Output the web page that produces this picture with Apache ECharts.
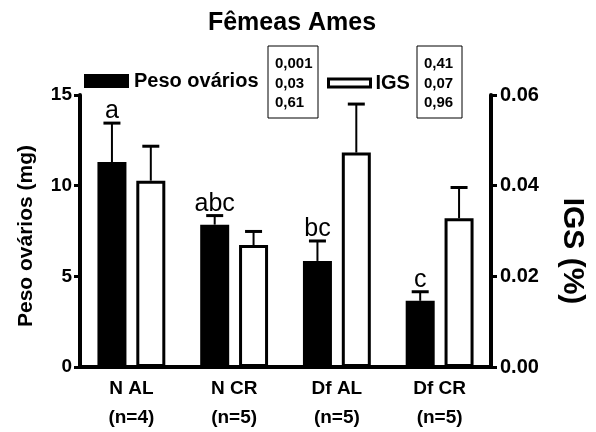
<!DOCTYPE html>
<html>
<head>
<meta charset="utf-8">
<script src="https://cdn.jsdelivr.net/npm/echarts@6/dist/echarts.min.js"></script>
<style>html,body{margin:0;padding:0;background:#fff;}#chart{width:596px;height:432px;}</style>
</head>
<body>
<div id="chart"></div>
<script>
const categories = ['N AL', 'N CR', 'Df AL', 'Df CR'];
const nLabels = ['(n=4)', '(n=5)', '(n=5)', '(n=5)'];
const pesoMean = [11.3, 7.85, 5.85, 3.65];
const pesoSem = [2.15, 0.5, 1.1, 0.5];
const igsMean = [0.0411, 0.0269, 0.0473, 0.0328];
const igsSem = [0.0076, 0.0030, 0.0107, 0.0068];
const letters = ['a', 'abc', 'bc', 'c'];
const pPeso = ['0,001', '0,03', '0,61'];
const pIgs = ['0,41', '0,07', '0,96'];
const leftAxis = { min: 0, max: 15, interval: 5 };
const rightAxis = { min: 0, max: 0.06, interval: 0.02 };

const FONT = 'Liberation Sans';
const BAR_W = 29;
const BAR_GAP = 0.34;

function errRender(dir, withLetters) {
  return function (params, api) {
    const i = api.value(0);
    const top = api.value(1);
    const base = api.value(2);
    const off = dir * (BAR_W + BAR_W * BAR_GAP) / 2;
    const p0 = api.coord([i, base]);
    const p1 = api.coord([i, top]);
    const x = p0[0] + off;
    const children = [
      { type: 'line', shape: { x1: x, y1: p0[1], x2: x, y2: p1[1] }, style: { stroke: '#000', lineWidth: 2 } },
      { type: 'line', shape: { x1: x - 8.5, y1: p1[1], x2: x + 8.5, y2: p1[1] }, style: { stroke: '#000', lineWidth: 3 } }
    ];
    if (withLetters) {
      children.push({ type: 'text', style: { text: letters[i], x: x, y: p1[1] + 1, align: 'center', verticalAlign: 'bottom', fontSize: 25, fontFamily: FONT, fill: '#000' } });
    }
    return { type: 'group', children: children };
  };
}

const chart = echarts.init(document.getElementById('chart'));

const boxGraphics = [];
function addBox(x, y, w, h, texts) {
  boxGraphics.push({ type: 'rect', shape: { x: x, y: y, width: w, height: h }, style: { fill: '#fff', stroke: '#000', lineWidth: 1 }, z: 10 });
  texts.forEach(function (t, k) {
    boxGraphics.push({ type: 'text', x: x + 7, y: y + 18 + k * 19.5, z: 11, style: { text: t, fontSize: 15, fontWeight: 'bold', fontFamily: FONT, fill: '#000', verticalAlign: 'middle' } });
  });
}
addBox(268, 46, 50, 72, pPeso);
addBox(417, 46, 45, 72, pIgs);

chart.setOption({
  animation: false,
  backgroundColor: '#fff',
  title: {
    text: 'Fêmeas Ames', left: 292, top: 11, textAlign: 'center', padding: 0,
    textStyle: { fontFamily: FONT, fontWeight: 'bold', fontSize: 25, color: '#000' }
  },
  legend: [
    { data: ['Peso ovários'], left: 84, top: 71, itemWidth: 45, itemHeight: 14, icon: 'rect', selectedMode: false, padding: 0,
      itemStyle: { color: '#000', borderWidth: 0 },
      textStyle: { fontFamily: FONT, fontWeight: 'bold', fontSize: 20, color: '#000' } },
    { data: ['IGS'], left: 327, top: 73, itemWidth: 42, itemHeight: 8, icon: 'rect', selectedMode: false, padding: 0,
      itemStyle: { color: '#fff', borderColor: '#000', borderWidth: 3 },
      textStyle: { fontFamily: FONT, fontWeight: 'bold', fontSize: 20, color: '#000' } }
  ],
  grid: { left: 80, right: 105, top: 95, bottom: 62 },
  xAxis: {
    type: 'category',
    data: categories.map(function (c, i) { return c + '\n' + nLabels[i]; }),
    axisLine: { lineStyle: { color: '#000', width: 4 } },
    axisTick: { alignWithLabel: true, length: 8, lineStyle: { color: '#000', width: 3 } },
    axisLabel: { fontFamily: FONT, fontWeight: 'bold', fontSize: 19, color: '#000', lineHeight: 29, margin: 7 }
  },
  yAxis: [
    {
      type: 'value', min: leftAxis.min, max: leftAxis.max, interval: leftAxis.interval, position: 'left',
      name: 'Peso ovários (mg)', nameLocation: 'middle', nameRotate: 90, nameGap: 43,
      nameTextStyle: { fontFamily: FONT, fontWeight: 'bold', fontSize: 21, color: '#000', padding: [0, 10, 0, 0] },
      axisLine: { show: true, lineStyle: { color: '#000', width: 4 } },
      axisTick: { show: true, length: 6, lineStyle: { color: '#000', width: 3 } },
      splitLine: { show: false },
      axisLabel: { fontFamily: FONT, fontWeight: 'bold', fontSize: 19, color: '#000', margin: 8 }
    },
    {
      type: 'value', min: rightAxis.min, max: rightAxis.max, interval: rightAxis.interval, position: 'right',
      name: 'IGS (%)', nameLocation: 'middle', nameRotate: -90, nameGap: 66,
      nameTextStyle: { fontFamily: FONT, fontWeight: 'bold', fontSize: 30, color: '#000', padding: [0, 0, 0, 40] },
      axisLine: { show: true, lineStyle: { color: '#000', width: 4 } },
      axisTick: { show: true, length: 6, lineStyle: { color: '#000', width: 3 } },
      splitLine: { show: false },
      axisLabel: { fontFamily: FONT, fontWeight: 'bold', fontSize: 20, color: '#000', margin: 9,
        formatter: function (v) { return v.toFixed(2); } }
    }
  ],
  series: [
    { name: 'Peso ovários', type: 'bar', yAxisIndex: 0, data: pesoMean, barWidth: BAR_W, barGap: (BAR_GAP * 100) + '%',
      itemStyle: { color: '#000' }, z: 2 },
    { name: 'IGS', type: 'bar', yAxisIndex: 1, data: igsMean, barWidth: BAR_W, barGap: (BAR_GAP * 100) + '%',
      itemStyle: { color: '#fff', borderColor: '#000', borderWidth: 3 }, z: 2 },
    { type: 'custom', yAxisIndex: 0, renderItem: errRender(-1, true), z: 3,
      data: pesoMean.map(function (m, i) { return [i, m + pesoSem[i], m]; }), encode: { x: 0, y: 1 } },
    { type: 'custom', yAxisIndex: 1, renderItem: errRender(1, false), z: 3,
      data: igsMean.map(function (m, i) { return [i, m + igsSem[i], m]; }), encode: { x: 0, y: 1 } }
  ],
  graphic: boxGraphics
});
</script>
</body>
</html>
